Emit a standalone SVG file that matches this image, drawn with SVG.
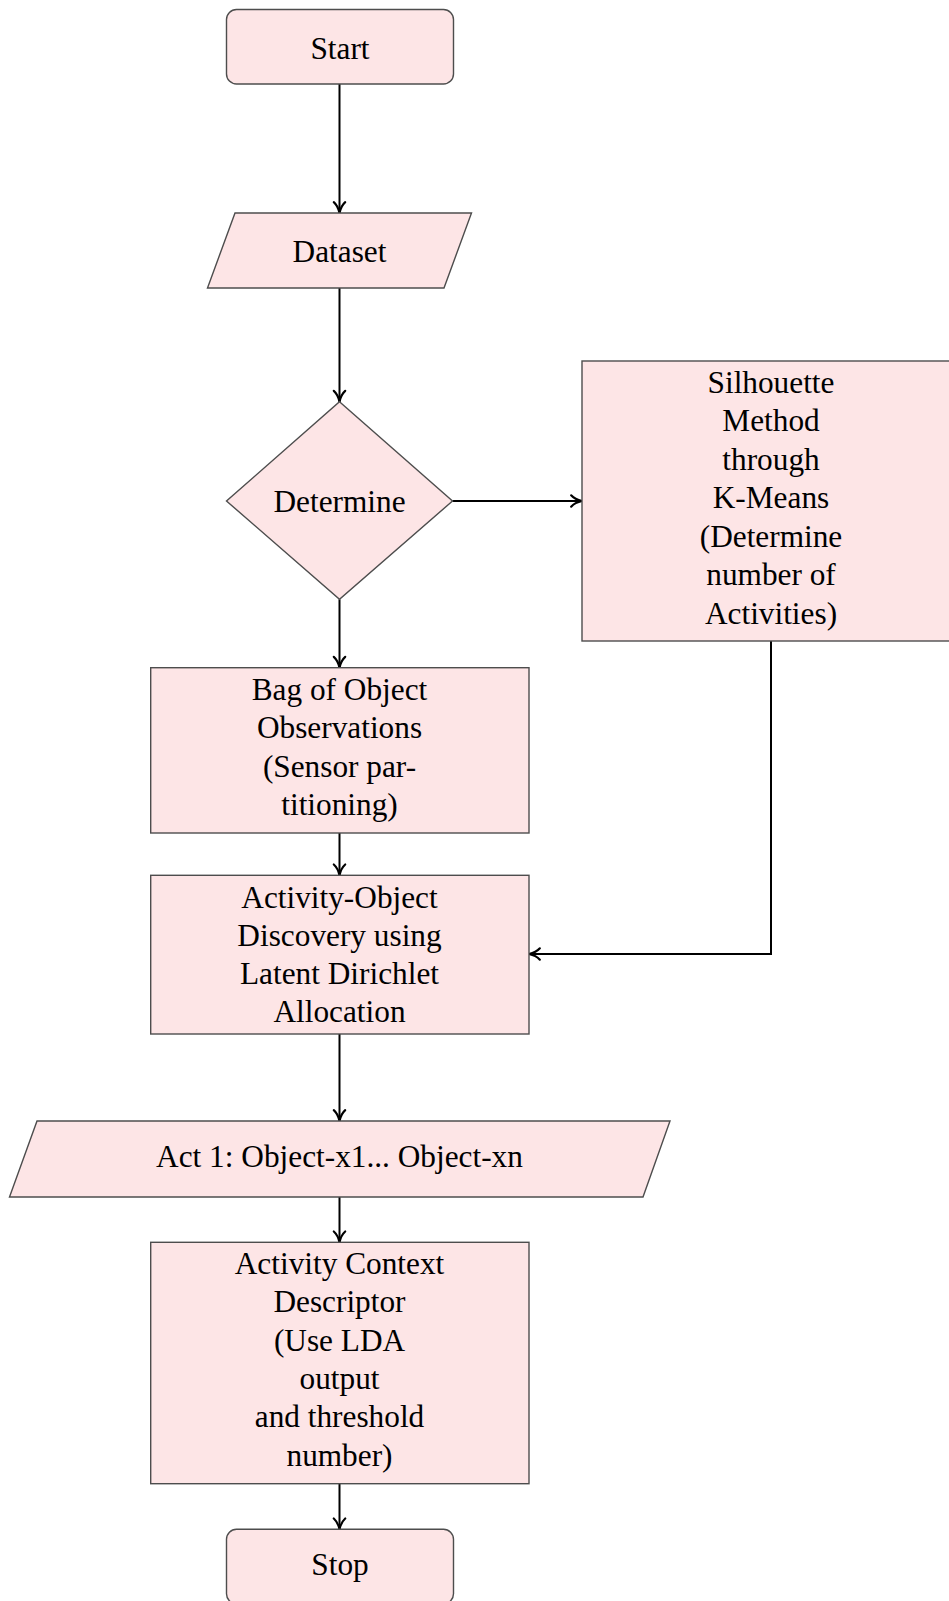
<svg xmlns="http://www.w3.org/2000/svg" width="949" height="1601" viewBox="0 0 949 1601">
  <style>
    .node { fill: #fde5e6; stroke: #4d4d4d; stroke-width: 1.4; }
    .label { font-family: "Liberation Serif", "Times New Roman", serif; font-size: 31.3px; fill: #000; text-anchor: middle; }
    .edge { fill: none; stroke: #000; stroke-width: 2; }
  </style>
  <defs>
    <marker id="arrow" markerUnits="userSpaceOnUse" markerWidth="16" markerHeight="16" viewBox="-12 -7 14 14" refX="0" refY="0" orient="auto">
      <path d="M-9.5,-5 C-7,-2.2 -2.8,-0.6 0,0 C-2.8,0.6 -7,2.2 -9.5,5" fill="none" stroke="#000" stroke-width="1.9" stroke-linecap="round"/>
    </marker>
  </defs>

  <rect width="949" height="1601" fill="#fff"/>

  <!-- connectors -->
  <g id="connectors">
    <path class="edge" d="M339.5,84 L339.5,213" marker-end="url(#arrow)"/>
    <path class="edge" d="M339.5,288 L339.5,401.7" marker-end="url(#arrow)"/>
    <path class="edge" d="M452.5,501 L582,501" marker-end="url(#arrow)"/>
    <path class="edge" d="M339.5,599.3 L339.5,667.7" marker-end="url(#arrow)"/>
    <path class="edge" d="M339.5,833 L339.5,875.3" marker-end="url(#arrow)"/>
    <path class="edge" d="M771,641 L771,954 L529,954" marker-end="url(#arrow)"/>
    <path class="edge" d="M339.5,1034 L339.5,1121" marker-end="url(#arrow)"/>
    <path class="edge" d="M339.5,1197 L339.5,1242.3" marker-end="url(#arrow)"/>
    <path class="edge" d="M339.5,1483.7 L339.5,1529.3" marker-end="url(#arrow)"/>
  </g>

  <g id="start">
    <rect class="node" x="226.5" y="9.5" width="227" height="74.5" rx="10" ry="10"/>
    <text class="label" x="340" y="59">Start</text>
  </g>

  <g id="dataset">
    <polygon class="node" points="235,213 471.5,213 444,288 207.5,288"/>
    <text class="label" x="339.5" y="261.7">Dataset</text>
  </g>

  <g id="determine">
    <polygon class="node" points="339.5,401.7 452.5,501 339.5,599.3 226.5,501"/>
    <text class="label" x="339.5" y="512">Determine</text>
  </g>

  <g id="silhouette">
    <rect class="node" x="582" y="361" width="400" height="280"/>
    <text class="label" x="771" y="392.5">Silhouette</text>
    <text class="label" x="771" y="431">Method</text>
    <text class="label" x="771" y="469.5">through</text>
    <text class="label" x="771" y="508">K-Means</text>
    <text class="label" x="771" y="546.5">(Determine</text>
    <text class="label" x="771" y="585">number of</text>
    <text class="label" x="771" y="623.5">Activities)</text>
  </g>

  <g id="bag">
    <rect class="node" x="150.7" y="667.7" width="378.3" height="165.3"/>
    <text class="label" x="339.5" y="700">Bag of Object</text>
    <text class="label" x="339.5" y="738.4">Observations</text>
    <text class="label" x="339.5" y="776.8">(Sensor par-</text>
    <text class="label" x="339.5" y="815.2">titioning)</text>
  </g>

  <g id="discovery">
    <rect class="node" x="150.7" y="875.3" width="378.3" height="158.7"/>
    <text class="label" x="339.5" y="907.6">Activity-Object</text>
    <text class="label" x="339.5" y="945.8">Discovery using</text>
    <text class="label" x="339.5" y="984.1">Latent Dirichlet</text>
    <text class="label" x="339.5" y="1022">Allocation</text>
  </g>

  <g id="objects">
    <polygon class="node" points="37,1121 670,1121 643,1197 9.5,1197"/>
    <text class="label" x="339.5" y="1167">Act 1: Object-x1... Object-xn</text>
  </g>

  <g id="descriptor">
    <rect class="node" x="150.7" y="1242.3" width="378.3" height="241.4"/>
    <text class="label" x="339.5" y="1274">Activity Context</text>
    <text class="label" x="339.5" y="1312.3">Descriptor</text>
    <text class="label" x="339.5" y="1350.7">(Use LDA</text>
    <text class="label" x="339.5" y="1389">output</text>
    <text class="label" x="339.5" y="1427.3">and threshold</text>
    <text class="label" x="339.5" y="1465.7">number)</text>
  </g>

  <g id="stop">
    <rect class="node" x="226.5" y="1529.3" width="227" height="74.5" rx="10" ry="10"/>
    <text class="label" x="340" y="1575">Stop</text>
  </g>
</svg>
